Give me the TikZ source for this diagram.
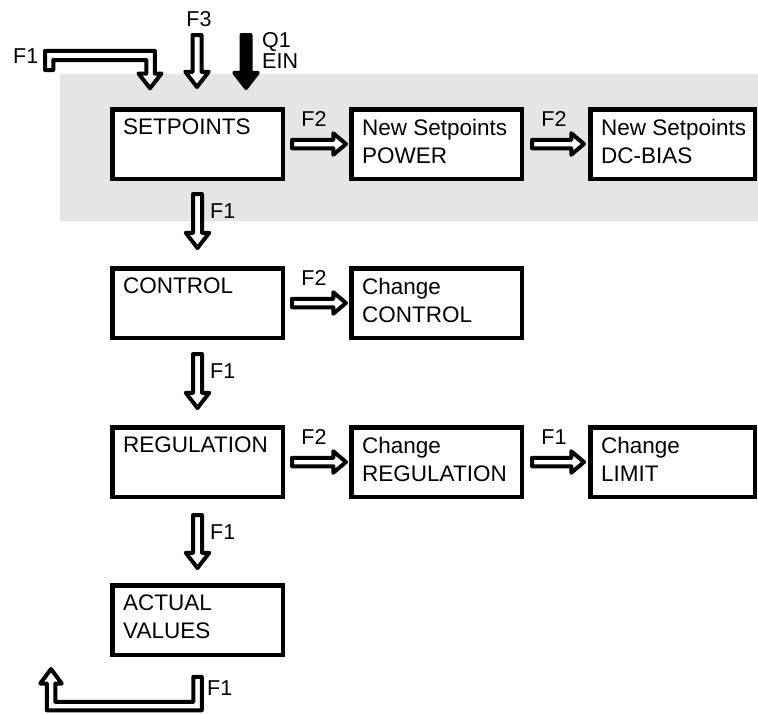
\documentclass[tikz,border=0pt]{standalone}
\usepackage{fontspec}
\setmainfont{Liberation Sans}
\usetikzlibrary{calc}
\begin{document}
\begin{tikzpicture}[x=1pt,y=-1pt,
  box/.style={draw, line width=4.5pt, minimum width=170.5pt, minimum height=69.5pt,
    inner sep=0pt, anchor=north west, fill=white},
  narrow/.style={minimum width=164.5pt},
  boxtxt/.style={anchor=north west, inner sep=0pt, align=left,
    font=\fontsize{22.5pt}{28pt}\selectfont, xshift=13pt, yshift=-12pt},
  lbl/.style={inner sep=0pt, font=\fontsize{21.5pt}{21pt}\selectfont},
  arr/.style={draw, line width=4pt, line join=round, fill=white},
  hollow right/.style 2 args={to path={
    let \p1=(\tikztostart), \p2=(\tikztotarget) in
    ({\x1+#1+2pt},{\y1+4.25pt}) -- ({\x2-#2-14.75pt},{\y1+4.25pt})
    -- ({\x2-#2-14.75pt},{\y1+10.75pt}) -- ({\x2-#2-2pt},{\y1})
    -- ({\x2-#2-14.75pt},{\y1-10.75pt}) -- ({\x2-#2-14.75pt},{\y1-4.25pt})
    -- ({\x1+#1+2pt},{\y1-4.25pt}) -- cycle}},
  hollow down/.style 2 args={to path={
    let \p1=(\tikztostart), \p2=(\tikztotarget) in
    ({\x1-4.5pt},{\y1-#1-2pt}) -- ({\x1-4.5pt},{\y2+#2+17.25pt})
    -- ({\x1-11.75pt},{\y2+#2+17.25pt}) -- ({\x1},{\y2+#2+2pt})
    -- ({\x1+11.75pt},{\y2+#2+17.25pt}) -- ({\x1+4.5pt},{\y2+#2+17.25pt})
    -- ({\x1+4.5pt},{\y1-#1-2pt}) -- cycle}}
]
\useasboundingbox (0,0) rectangle (758,715);
\fill[black!10] (60,74) rectangle (758,221);

% boxes
\node[box, label={[boxtxt]north west:SETPOINTS}] (sp) at (110,107) {};
\node[box, label={[boxtxt]north west:{New Setpoints\\POWER}}] (nsp) at (349,107) {};
\node[box, narrow, label={[boxtxt]north west:{New Setpoints\\DC-BIAS}}] (nsd) at (588,107) {};
\node[box, label={[boxtxt]north west:CONTROL}] (ctl) at (110,266) {};
\node[box, label={[boxtxt]north west:{Change\\CONTROL}}] (cctl) at (349,266) {};
\node[box, label={[boxtxt]north west:REGULATION}] (reg) at (110,425) {};
\node[box, label={[boxtxt]north west:{Change\\REGULATION}}] (creg) at (349,425) {};
\node[box, narrow, label={[boxtxt]north west:{Change\\LIMIT}}] (clim) at (588,425) {};
\node[box, label={[boxtxt]north west:{ACTUAL\\VALUES}}] (act) at (110,583) {};

% horizontal arrows
\draw[arr, hollow right={5pt}{1pt}] (sp.east) to (nsp.west);
\draw[arr, hollow right={6pt}{2pt}] (nsp.east) to (nsd.west);
\draw[arr, hollow right={5pt}{1pt}] (ctl.east) to (cctl.west);
\draw[arr, hollow right={5pt}{1pt}] (reg.east) to (creg.west);
\draw[arr, hollow right={6pt}{2pt}] (creg.east) to (clim.west);
\node[lbl, anchor=base] (l2a) at ($(sp.east)!0.5!(nsp.west)+(-3,-18)$) {F2};
\node[lbl, anchor=base] (l2b) at ($(nsp.east)!0.5!(nsd.west)+(-2,-18)$) {F2};
\node[lbl, anchor=base] (l2c) at ($(ctl.east)!0.5!(cctl.west)+(-3,-18)$) {F2};
\node[lbl, anchor=base] (l2d) at ($(reg.east)!0.5!(creg.west)+(-3,-18)$) {F2};
\node[lbl, anchor=base] (l1e) at ($(creg.east)!0.5!(clim.west)+(-2,-18)$) {F1};

% vertical arrows
\draw[arr, hollow down={11pt}{16pt}] (sp.south) to (ctl.north);
\draw[arr, hollow down={12pt}{15pt}] (ctl.south) to (reg.north);
\draw[arr, hollow down={14pt}{13pt}] (reg.south) to (act.north);
\node[lbl, anchor=base west] (l1a) at ($(sp.south)+(12.5,37)$) {F1};
\node[lbl, anchor=base west] (l1b) at ($(ctl.south)+(12.5,38)$) {F1};
\node[lbl, anchor=base west] (l1c) at ($(reg.south)+(12.5,40)$) {F1};

% inputs on top
\coordinate (f3a) at (197,33);
\coordinate (f3b) at (197,89);
\draw[arr, hollow down={0pt}{0pt}] (f3a) to (f3b);
\node[lbl, anchor=base] (l3) at (199,26) {F3};
\coordinate (q1a) at (246,33);
\coordinate (q1b) at (246,90);
\draw[arr, fill=black, hollow down={0pt}{0pt}] (q1a) to (q1b);
\node[lbl, anchor=base west] (lq1) at (262,47) {Q1};
\node[lbl, anchor=base west] (lein) at (262,68) {EIN};

% F1 loop-in arrow (top left)
\draw[arr] (45,70) -- (45,50.75) -- (154.75,50.75) -- (154.75,73.5)
  -- (161.5,73.5) -- (150,88.25) -- (138.5,73.5) -- (146.25,73.5)
  -- (146.25,60) -- (53.25,60) -- (53.25,70) -- cycle;
\node[lbl, anchor=base west] (l1top) at (13,63) {F1};

% F1 return arrow (bottom)
\draw[arr] (201.75,676.75) -- (201.75,710.25) -- (46.75,710.25) -- (46.75,683.5)
  -- (40.25,683.5) -- (51,669) -- (61.75,683.5) -- (55.25,683.5)
  -- (55.25,701.75) -- (193.25,701.75) -- (193.25,676.75) -- cycle;
\node[lbl, anchor=base west] (l1bot) at (207,695) {F1};
\end{tikzpicture}
\end{document}
